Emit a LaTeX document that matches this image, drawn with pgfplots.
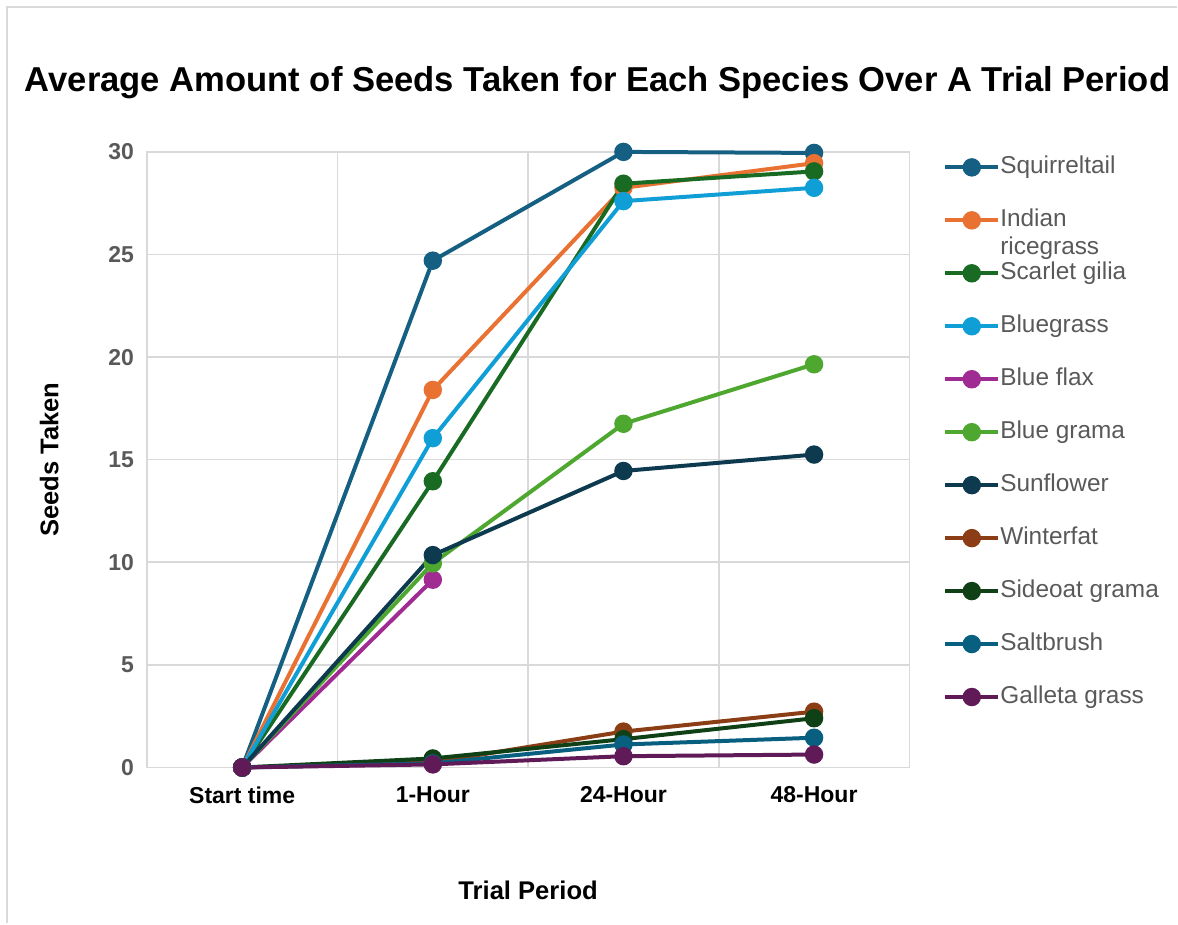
\documentclass[border=0pt]{standalone}
\usepackage{pgfplots}
\pgfplotsset{compat=1.18}
\usepackage{fontspec}
\setmainfont{Liberation Sans}
\definecolor{cSq}{HTML}{156082}
\definecolor{cIn}{HTML}{E97132}
\definecolor{cSc}{HTML}{196B24}
\definecolor{cBg}{HTML}{0F9ED5}
\definecolor{cBf}{HTML}{A02B93}
\definecolor{cBgr}{HTML}{4EA72E}
\definecolor{cSu}{HTML}{0D3A4E}
\definecolor{cWi}{HTML}{8B3D15}
\definecolor{cSi}{HTML}{0F4016}
\definecolor{cSa}{HTML}{095F80}
\definecolor{cGa}{HTML}{601A58}
\definecolor{gridc}{HTML}{D9D9D9}
\definecolor{txtg}{HTML}{595959}
\begin{document}
\begin{tikzpicture}
\path (0pt,0pt) rectangle (589pt,-462pt);
\draw[gridc, line width=0.8pt] (3.5pt,-462pt) -- (3.5pt,-3.5pt) -- (589pt,-3.5pt);
\node[font=\bfseries\fontsize{17.3}{19}\selectfont, anchor=base] at (299pt,-46pt) {Average Amount of Seeds Taken for Each Species Over A Trial Period};
\begin{axis}[
  at={(73.5pt,-384pt)}, anchor=south west,
  scale only axis, width=381.5pt, height=308pt,
  xmin=-0.5, xmax=3.5, ymin=0, ymax=30,
  xtick={0,1,2,3},
  xticklabels={Start time,1-Hour,24-Hour,48-Hour},
  minor xtick={0.5,1.5,2.5},
  ytick={0,5,10,15,20,25,30},
  major tick length=0pt, minor tick length=0pt,
  ymajorgrids, xminorgrids,
  grid style={gridc, line width=0.8pt},
  minor grid style={gridc, line width=0.8pt},
  axis line style={gridc, line width=0.8pt},
  x tick label style={font=\bfseries\fontsize{11.5}{13}\selectfont, black, yshift=-6pt},
  y tick label style={font=\bfseries\fontsize{11.5}{13}\selectfont, txtg, xshift=-3pt},
  /pgf/number format/assume math mode=true,
  xlabel={Trial Period}, ylabel={Seeds Taken},
  label style={font=\bfseries\fontsize{12.8}{14}\selectfont, black},
  xlabel style={yshift=-32pt},
  ylabel style={yshift=18pt},
  every axis plot/.append style={line width=2pt, mark=*, mark size=3.6pt},
  clip=false,
  legend style={at={(1.044,0.995)}, anchor=north west, draw=none, fill=none,
    font=\fontsize{12.2}{14}\selectfont, text=txtg,
    row sep=14.5pt, inner sep=0pt,
    nodes={inner sep=0pt, text height=9pt, text depth=3pt}},
  legend cell align=left,
  legend image code/.code={\draw[mark repeat=2, mark phase=2, #1] plot coordinates {(0pt,0pt)(13.25pt,0pt)(26.5pt,0pt)};},
]
\addplot[cSq, mark options={fill=cSq}] coordinates {(0,0)(1,24.7)(2,30.0)(3,29.95)};
\addlegendentry{Squirreltail}
\addplot[cIn, mark options={fill=cIn}] coordinates {(0,0)(1,18.4)(2,28.25)(3,29.45)};
\addlegendentry{\smash{\begin{tabular}[t]{@{}l@{}}Indian\\[0pt]ricegrass\end{tabular}}}
\addplot[cSc, mark options={fill=cSc}] coordinates {(0,0)(1,13.95)(2,28.45)(3,29.05)};
\addlegendentry{Scarlet gilia}
\addplot[cBg, mark options={fill=cBg}] coordinates {(0,0)(1,16.05)(2,27.6)(3,28.25)};
\addlegendentry{Bluegrass}
\addplot[cBf, mark options={fill=cBf}] coordinates {(0,0)(1,9.15)};
\addlegendentry{Blue flax}
\addplot[cBgr, mark options={fill=cBgr}] coordinates {(0,0)(1,9.95)(2,16.75)(3,19.65)};
\addlegendentry{Blue grama}
\addplot[cSu, mark options={fill=cSu}] coordinates {(0,0)(1,10.35)(2,14.45)(3,15.25)};
\addlegendentry{Sunflower}
\addplot[cWi, mark options={fill=cWi}] coordinates {(0,0)(1,0.25)(2,1.75)(3,2.72)};
\addlegendentry{Winterfat}
\addplot[cSi, mark options={fill=cSi}] coordinates {(0,0)(1,0.44)(2,1.38)(3,2.4)};
\addlegendentry{Sideoat grama}
\addplot[cSa, mark options={fill=cSa}] coordinates {(0,0)(1,0.2)(2,1.12)(3,1.45)};
\addlegendentry{Saltbrush}
\addplot[cGa, mark options={fill=cGa}] coordinates {(0,0)(1,0.15)(2,0.55)(3,0.63)};
\addlegendentry{Galleta grass}
\end{axis}
\end{tikzpicture}
\end{document}
